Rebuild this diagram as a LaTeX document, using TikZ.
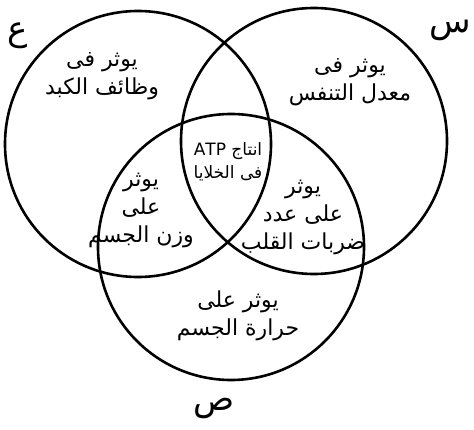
\documentclass[tikz,border=0pt]{standalone}
\usepackage{fontspec}
\newfontfamily\arabicfont[Script=Arabic]{DejaVu Sans}
\TeXXeTstate=1
\usepackage{tikz}
\usetikzlibrary{positioning}

\begin{document}
\begin{tikzpicture}[
        x=1pt, y=-1pt,
        set/.style={
            circle,
            draw=black,
            line width=2.6pt,
            minimum size=266pt,
            inner sep=0pt
        },
        region/.style={
            align=center,
            font=\arabicfont\fontsize{22}{28}\selectfont,
            inner sep=0pt
        },
        small/.style={
            region,
            font=\arabicfont\fontsize{17}{23}\selectfont
        },
        setname/.style={
            font=\arabicfont\fontsize{34}{34}\selectfont,
            inner sep=0pt
        }
    ]
        \useasboundingbox (0,0) rectangle (474,430);
        % the three sets
        \node[set] (ain) at (138,144) {};
        \node[set] (sin) at (314,141) {};
        \node[set] (sad) at (231,247) {};
        % set names
        \node[setname] (ainname) at (18,36) {\beginR ع\endR};
        \node[setname] (sinname) at (450,30) {\beginR س\endR};
        \node[setname] (sadname) at (214,408) {\beginR ص\endR};
        % regions
        \node[region] (liver) at (102,76) {\beginR يوثر فى\endR\\ \beginR وظائف الكبد\endR};
        \node[region] (breath) at (350,82) {\beginR يوثر فى\endR\\ \beginR معدل التنفس\endR};
        \node[small] (atp) at (228,162) {\beginR انتاج \beginL ATP\endL\endR\\ \beginR فى الخلايا\endR};
        \node[region] (weight) at (141,210) {\beginR يوثر\endR\\ \beginR على\endR\\ \beginR وزن الجسم\endR};
        \node[region] (heart) at (303,217) {\beginR يوثر\endR\\ \beginR على عدد\endR\\ \beginR ضربات القلب\endR};
        \node[region] (heat) at (238,316) {\beginR يوثر على\endR\\ \beginR حرارة الجسم\endR};
    \end{tikzpicture}
\end{document}
